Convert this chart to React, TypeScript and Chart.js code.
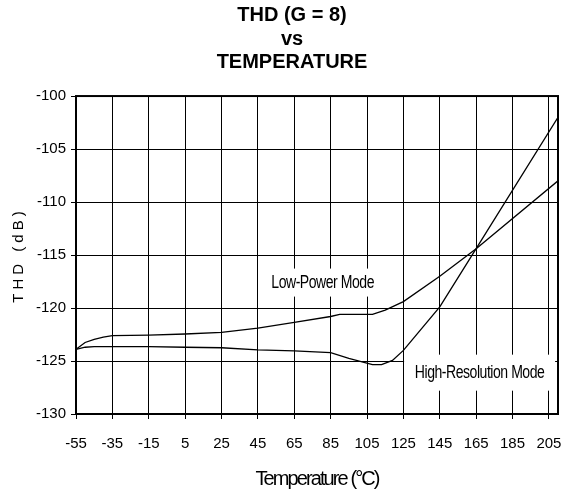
import React, { useEffect, useRef } from 'react';
import { Chart, registerables } from 'chart.js';

Chart.register(...registerables);

// ---- Data ----
const titleLines = ['THD (G = 8)', 'vs', 'TEMPERATURE'];
const xTitle = 'Temperature (°C)';
const yTitle = 'THD (dB)';
const temperatureTicks = [-55, -35, -15, 5, 25, 45, 65, 85, 105, 125, 145, 165, 185, 205];

const lowPowerTemp = [-55, -50, -45, -40, -35, -15, 5, 25, 45, 65, 85, 90, 108, 115, 125, 145, 165, 210];
const lowPowerTHD = [-123.9, -123.25, -122.95, -122.75, -122.6, -122.55, -122.45, -122.3, -121.9, -121.35, -120.8, -120.6, -120.6, -120.2, -119.4, -117.0, -114.4, -108.0];

const highResTemp = [-55, -50, -45, -35, -15, 5, 25, 45, 65, 85, 95, 108, 113, 119, 125, 145, 165, 210];
const highResTHD = [-123.9, -123.7, -123.65, -123.65, -123.65, -123.7, -123.75, -123.95, -124.05, -124.2, -124.75, -125.35, -125.35, -124.95, -124.0, -119.9, -114.4, -102.0];

const seriesNames = ['Low-Power Mode', 'High-Resolution Mode'];

const FONT = '"Liberation Sans", Arial, Helvetica, sans-serif';

// annotation placement (data coords of text center) and box sizes in px
const annotationPlacement = [
  { x: 80.6, y: -117.6, boxW: 116, boxH: 28 },
  { x: 166.9, y: -126.1, boxW: 151, boxH: 36 },
];

const titleSpacing: Record<string, string> = { x: '-1.9px', y: '4px' };

const annotationPlugin = {
  id: 'modeLabels',
  beforeDatasetsDraw(chart: any) {
    const ctx = chart.ctx;
    const xs = chart.scales.x;
    const ys = chart.scales.y;
    seriesNames.forEach((text, i) => {
      const p = annotationPlacement[i];
      const cx = xs.getPixelForValue(p.x);
      const cy = ys.getPixelForValue(p.y);
      ctx.save();
      ctx.fillStyle = '#fff';
      ctx.fillRect(cx - p.boxW / 2, cy - p.boxH / 2, p.boxW, p.boxH);
      ctx.translate(cx, cy);
      ctx.scale(0.78, 1);
      ctx.font = `18px ${FONT}`;
      (ctx as any).letterSpacing = '-0.6px';
      ctx.fillStyle = '#000';
      ctx.textAlign = 'center';
      ctx.textBaseline = 'middle';
      ctx.fillText(text, 0, 0);
      ctx.restore();
    });
  },
};

const framePlugin = {
  id: 'frame',
  afterDatasetsDraw(chart: any) {
    const { ctx, chartArea } = chart;
    ctx.save();
    ctx.strokeStyle = '#000';
    ctx.lineWidth = 2;
    ctx.strokeRect(chartArea.left, chartArea.top, chartArea.right - chartArea.left, chartArea.bottom - chartArea.top);
    ctx.restore();
  },
};

const titleSpacingPlugin = {
  id: 'titleSpacing',
  afterLayout(chart: any) {
    ['x', 'y'].forEach((id) => {
      const s: any = chart.scales[id];
      if (s && !s.__spaced) {
        const orig = s.drawTitle.bind(s);
        s.drawTitle = () => {
          const ctx = chart.ctx;
          ctx.save();
          (ctx as any).letterSpacing = titleSpacing[id];
          orig();
          ctx.restore();
        };
        s.__spaced = true;
      }
    });
  },
};

export default function App() {
  const ref = useRef<HTMLCanvasElement | null>(null);

  useEffect(() => {
    if (!ref.current) return;
    const chart = new Chart(ref.current, {
      type: 'line',
      data: {
        datasets: [
          {
            label: seriesNames[0],
            data: lowPowerTemp.map((t, i) => ({ x: t, y: lowPowerTHD[i] })),
            borderColor: '#000',
            borderWidth: 1.3,
            pointRadius: 0,
            tension: 0,
            fill: false,
          },
          {
            label: seriesNames[1],
            data: highResTemp.map((t, i) => ({ x: t, y: highResTHD[i] })),
            borderColor: '#000',
            borderWidth: 1.3,
            pointRadius: 0,
            tension: 0,
            fill: false,
          },
        ],
      },
      options: {
        animation: false,
        responsive: false,
        devicePixelRatio: 1,
        layout: { padding: 0 },
        plugins: {
          legend: { display: false },
          tooltip: { enabled: false },
          title: {
            display: true,
            text: titleLines,
            color: '#000',
            font: { family: FONT, size: 20, weight: 'bold', lineHeight: 1.1675 },
            padding: { top: 4, bottom: 22 },
          },
        },
        scales: {
          x: {
            type: 'linear',
            min: -55,
            max: 210,
            afterBuildTicks: (s: any) => {
              s.ticks = temperatureTicks.map((v) => ({ value: v }));
            },
            afterFit: (s: any) => {
              s.height = 81;
              s.paddingLeft = 0;
              s.paddingRight = 0;
            },
            grid: { color: '#000', lineWidth: 1, drawTicks: true, tickLength: 5, tickColor: '#000' },
            border: { display: false },
            ticks: {
              color: '#000',
              font: { family: FONT, size: 15 },
              padding: 16,
              maxRotation: 0,
              autoSkip: false,
              callback: (v: any) => String(v),
            },
            title: {
              display: true,
              text: xTitle,
              color: '#000',
              font: { family: FONT, size: 20 },
              padding: { top: 0, bottom: 4 },
            },
          },
          y: {
            type: 'linear',
            position: 'left',
            min: -130,
            max: -100,
            afterFit: (s: any) => {
              s.width = 76;
              s.paddingTop = 0;
              s.paddingBottom = 0;
            },
            grid: { color: '#000', lineWidth: 1, drawTicks: true, tickLength: 5, tickColor: '#000' },
            border: { display: false },
            ticks: {
              stepSize: 5,
              color: '#000',
              font: { family: FONT, size: 15 },
              padding: 5,
            },
            title: {
              display: true,
              text: yTitle,
              color: '#000',
              font: { family: FONT, size: 15 },
              padding: { top: 10, bottom: 0 },
            },
          },
          yR: {
            type: 'linear',
            position: 'right',
            display: true,
            grid: { display: false, drawTicks: false },
            border: { display: false },
            ticks: { display: false },
            afterFit: (s: any) => {
              s.width = 26;
              s.paddingTop = 0;
              s.paddingBottom = 0;
            },
          },
        },
      },
      plugins: [annotationPlugin, framePlugin, titleSpacingPlugin],
    } as any);
    return () => chart.destroy();
  }, []);

  return (
    <div style={{ position: 'absolute', left: 0, top: 0, width: 564, height: 495, overflow: 'hidden', background: '#fff' }}>
      <canvas ref={ref} width={584} height={495} style={{ display: 'block', width: 584, height: 495 }} />
    </div>
  );
}
